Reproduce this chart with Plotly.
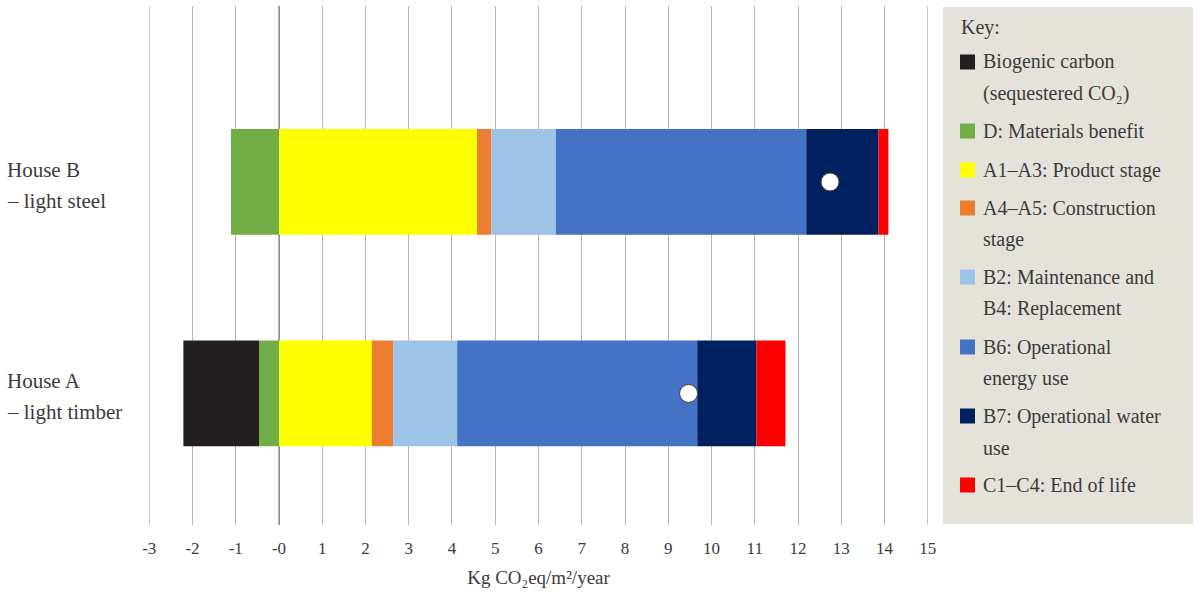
import plotly.graph_objects as go

categories = ["House A", "House B"]
cat_lines = [["House A", "– light timber"], ["House B", "– light steel"]]

series_names = [
    "Biogenic carbon (sequestered CO₂)",
    "D: Materials benefit",
    "A1–A3: Product stage",
    "A4–A5: Construction stage",
    "B2: Maintenance and B4: Replacement",
    "B6: Operational energy use",
    "B7: Operational water use",
    "C1–C4: End of life",
]
legend_lines = [
    ["Biogenic carbon", "(sequestered CO₂)"],
    ["D: Materials benefit"],
    ["A1–A3: Product stage"],
    ["A4–A5: Construction", "stage"],
    ["B2: Maintenance and", "B4: Replacement"],
    ["B6: Operational", "energy use"],
    ["B7: Operational water", "use"],
    ["C1–C4: End of life"],
]

biogenic = [-1.75, 0.0]
d_benefit = [-0.46, -1.11]
a1_a3 = [2.15, 4.58]
a4_a5 = [0.49, 0.33]
b2_b4 = [1.48, 1.49]
b6 = [5.55, 5.79]
b7 = [1.37, 1.67]
c1_c4 = [0.67, 0.23]
net_total = [9.47, 12.74]

tick_vals = list(range(-3, 16))
tick_text = ["-3", "-2", "-1", "-0"] + [str(v) for v in range(1, 16)]

colors = ["#231f20", "#70ad47", "#ffff00", "#ed7d31", "#9dc3e6", "#4472c4", "#002060", "#ff0000"]
values = [biogenic, d_benefit, a1_a3, a4_a5, b2_b4, b6, b7, c1_c4]

FONT = "Liberation Serif"
TXT = "#3b3b3b"
GRID = "#b5b5b5"

fig = go.Figure()
# D first so it stacks next to zero, then biogenic further left
order = [1, 0, 2, 3, 4, 5, 6, 7]
for i in order:
    fig.add_trace(go.Bar(
        y=categories, x=values[i], name=series_names[i], orientation="h",
        marker=dict(color=colors[i], line=dict(width=0)), width=0.5,
        showlegend=False,
    ))

fig.add_trace(go.Scatter(
    y=categories, x=net_total, mode="markers", showlegend=False,
    marker=dict(size=18, color="white", line=dict(color="#444444", width=1)),
))

# plot area geometry in pixels
L, R, T, B = 149, 928, 6, 525
W, H = R - L, B - T

def px(x):
    return (x - L) / W

def py(y):
    return (B - y) / H

annotations = []
# category labels
shifts = [(12.5, -18.5), (12, -19)]
for cat, lines, sh in zip(categories, cat_lines, shifts):
    for line, s in zip(lines, sh):
        annotations.append(dict(
            xref="paper", yref="y", x=px(5), y=cat, yshift=s,
            text=line, showarrow=False, xanchor="left", yanchor="middle",
            font=dict(family=FONT, size=21, color=TXT),
        ))

shapes = [dict(type="rect", xref="paper", yref="paper",
               x0=px(943), x1=px(1193), y0=py(524), y1=py(7),
               fillcolor="#e5e3d9", line=dict(width=0), layer="below")]

annotations.append(dict(
    xref="paper", yref="paper", x=px(959), y=py(27), text="Key:",
    showarrow=False, xanchor="left", yanchor="middle",
    font=dict(family=FONT, size=20, color=TXT)))

item_y = [62, 131, 170, 208, 277, 347, 416, 485]
line_gap = 31.5
for lines, c, yy in zip(legend_lines, colors, item_y):
    shapes.append(dict(type="rect", xref="paper", yref="paper",
                       x0=px(960), x1=px(975), y0=py(yy + 7.5), y1=py(yy - 7.5),
                       fillcolor=c, line=dict(width=0)))
    for k, line in enumerate(lines):
        annotations.append(dict(
            xref="paper", yref="paper", x=px(981), y=py(yy + k * line_gap),
            text=line, showarrow=False, xanchor="left", yanchor="middle",
            font=dict(family=FONT, size=20, color=TXT)))

# edge gridlines and zero line
for xv in (tick_vals[0], tick_vals[-1]):
    shapes.append(dict(type="line", xref="x", yref="paper", x0=xv, x1=xv, y0=0, y1=1,
                       line=dict(color=GRID, width=1), layer="below"))
shapes.append(dict(type="line", xref="x", yref="paper", x0=0, x1=0, y0=0, y1=1,
                   line=dict(color="#8c8c8c", width=2), layer="below"))

fig.update_layout(
    barmode="relative",
    width=1200, height=594,
    margin=dict(l=L, r=1200 - R, t=T, b=594 - B),
    plot_bgcolor="white", paper_bgcolor="white",
    font=dict(family=FONT, color=TXT),
    shapes=shapes, annotations=annotations,
    xaxis=dict(
        range=[-3.005, 15.005], tickvals=tick_vals, ticktext=tick_text,
        showgrid=True, gridcolor=GRID, gridwidth=1,
        zeroline=False, showline=False, ticks="",
        ticklabelstandoff=11,
        tickfont=dict(family=FONT, size=17, color=TXT),
        title=dict(text="Kg CO₂eq/m²/year", standoff=13,
                   font=dict(family=FONT, size=19, color=TXT)),
    ),
    yaxis=dict(
        range=[-0.622, 1.832], showticklabels=False, showgrid=False,
        zeroline=False, showline=False, ticks="",
    ),
)

fig.write_html("out.html")
